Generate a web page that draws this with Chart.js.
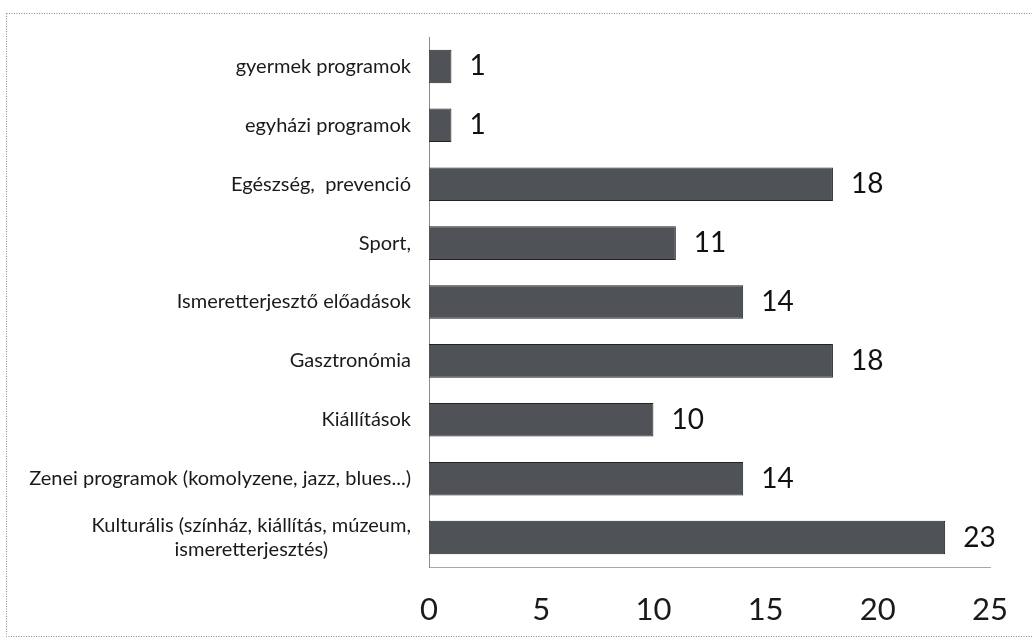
<!DOCTYPE html>
<html>
<head>
<meta charset="utf-8">
<script src="https://cdn.jsdelivr.net/npm/chart.js@4.4.1/dist/chart.umd.min.js"></script>
<style>
  html, body { margin: 0; padding: 0; background: #fff; }
  #wrap { width: 1032px; height: 641px; position: relative; }
</style>
</head>
<body>
<div id="wrap"><canvas id="myChart" width="1032" height="641"></canvas></div>
<script>
// program types, top to bottom
let categories = [
    ["gyermek programok"],
    ["egyházi programok"],
    ["Egészség,  prevenció"],
    ["Sport,"],
    ["Ismeretterjesztő előadások"],
    ["Gasztronómia"],
    ["Kiállítások"],
    ["Zenei programok (komolyzene, jazz, blues...)"],
    ["Kulturális (színház, kiállítás, múzeum,", "ismeretterjesztés)"]
];
let counts = [1, 1, 18, 11, 14, 18, 10, 14, 23];
let xTicks = [0, 5, 10, 15, 20, 25];

const fontFamily = "Lato, 'Open Sans', sans-serif";

// dotted frame around the whole figure
let framePlugin = {
    id: 'frame',
    beforeDraw: function (chart) {
        let ctx = chart.ctx;
        ctx.save();
        ctx.strokeStyle = '#8a8a8a';
        ctx.lineWidth = 1;
        ctx.setLineDash([1, 1.5]);
        ctx.strokeRect(6.5, 13.5, 1040, 623);
        ctx.restore();
    }
};

// category labels, right aligned as a block, lines centred within it
let categoryLabels = {
    id: 'categoryLabels',
    afterDraw: function (chart) {
        let ctx = chart.ctx;
        let yScale = chart.scales.y;
        let right = chart.chartArea.left - 18;
        let lineH = 24;
        ctx.save();
        ctx.font = "20px " + fontFamily;
        ctx.fillStyle = '#1a1a1a';
        ctx.textBaseline = 'middle';
        categories.forEach(function (lines, i) {
            let y = yScale.getPixelForTick(i);
            let widest = Math.max.apply(null, lines.map(function (l) { return ctx.measureText(l).width; }));
            let cx = right - widest / 2;
            ctx.textAlign = 'center';
            lines.forEach(function (line, j) {
                let ly = y + (j - (lines.length - 1) / 2) * lineH;
                ctx.fillText(line, cx, ly);
            });
        });
        ctx.restore();
    }
};

// value printed just past the end of each bar
let valueLabels = {
    id: 'valueLabels',
    afterDatasetsDraw: function (chart) {
        let ctx = chart.ctx;
        let meta = chart.getDatasetMeta(0);
        ctx.save();
        ctx.font = "28px " + fontFamily;
        ctx.fillStyle = '#111';
        ctx.textAlign = 'left';
        ctx.textBaseline = 'middle';
        meta.data.forEach(function (bar, i) {
            ctx.fillText(String(counts[i]), bar.x + 18, bar.y);
        });
        ctx.restore();
    }
};

let config = {
    type: 'bar',
    data: {
        labels: categories.map(function (l) { return l.join(' '); }),
        datasets: [{
            data: counts,
            backgroundColor: '#4f5358',
            borderColor: '#222325',
            borderWidth: 1,
            categoryPercentage: 1.0,
            barPercentage: 0.57
        }]
    },
    options: {
        indexAxis: 'y',
        responsive: false,
        animation: false,
        devicePixelRatio: 1,
        layout: { padding: { top: 37, right: 41, bottom: 0, left: 0 } },
        plugins: {
            legend: { display: false },
            tooltip: { enabled: false }
        },
        scales: {
            x: {
                min: 0,
                max: 25,
                afterBuildTicks: function (scale) {
                    scale.ticks = xTicks.map(function (v) { return { value: v }; });
                },
                afterFit: function (scale) { scale.height = 641 - 567; },
                grid: { display: false, drawTicks: false },
                border: { display: true, color: '#a8a8a8', width: 1 },
                ticks: {
                    padding: 24,
                    color: '#1a1a1a',
                    font: { family: fontFamily, size: 31 }
                }
            },
            y: {
                afterFit: function (scale) { scale.width = 429; },
                grid: { display: false, drawTicks: false },
                border: { display: true, color: '#8c8c8c', width: 1 },
                ticks: { display: false }
            }
        }
    },
    plugins: [framePlugin, categoryLabels, valueLabels]
};

let myChart = new Chart(document.getElementById('myChart'), config);
</script>
</body>
</html>
